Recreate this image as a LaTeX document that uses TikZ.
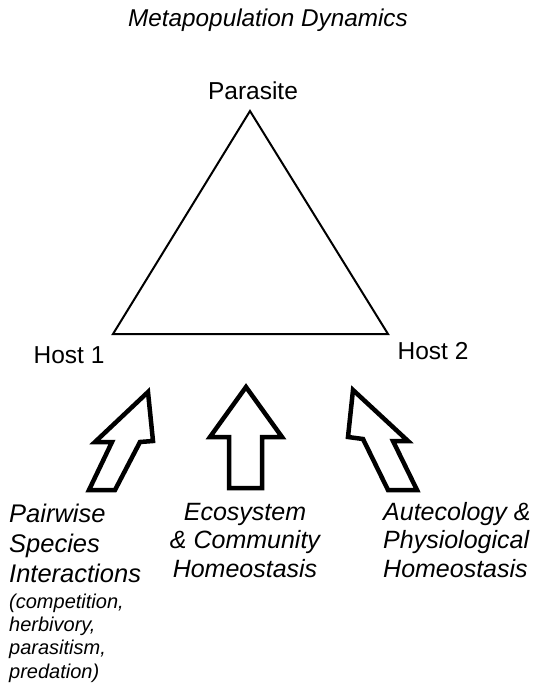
\documentclass[tikz,border=0pt]{standalone}
\usepackage{fontspec}
\setmainfont{Liberation Sans}
\begin{document}
\begin{tikzpicture}[x=1pt,y=-1pt,
  lbl/.style={inner sep=0pt, font=\fontsize{24.5}{28}\selectfont},
  ilbl/.style={inner sep=0pt, font=\fontsize{25}{28.5}\selectfont\itshape},
  small/.style={inner sep=0pt, font=\fontsize{20}{23.3}\selectfont\itshape},
  tri/.style={draw=black, line width=2pt, line join=miter},
  bigarrow/.style={draw=black, fill=white, line width=4.5pt, line join=miter}]
\useasboundingbox (0,0) rectangle (536,688);
\node[ilbl, anchor=base, font=\fontsize{24.3}{28}\selectfont\itshape] (title) at (268,27) {Metapopulation Dynamics};
\node[lbl, anchor=base] (par) at (253,99) {Parasite};
\node[lbl, anchor=base] (h1) at (69,363) {Host 1};
\node[lbl, anchor=base] (h2) at (433,359) {Host 2};
\coordinate (A) at (250,111);
\coordinate (B) at (113,334);
\coordinate (C) at (388,334);
\draw[tri] (A) -- (B) -- (C) -- cycle;
% arrows
\draw[bigarrow] (148,392) -- (153,441) -- (140,442) -- (115,490) -- (89,490) -- (112,442) -- (95,442) -- cycle;
\draw[bigarrow] (246,387) -- (282,437) -- (262,437) -- (262,488) -- (229,488) -- (229,437) -- (210,437) -- cycle;
\draw[bigarrow] (353,390) -- (408,441) -- (393,441) -- (417,490) -- (388,490) -- (363,439) -- (348,437) -- cycle;
% texts
\node[ilbl, anchor=base west, align=left, font=\fontsize{25.5}{30}\selectfont\itshape] (pw) at (9,582) {Pairwise\\Species\\Interactions};
\node[small, anchor=base west, align=left] (ex) at (9,678) {(competition,\\herbivory,\\parasitism,\\predation)};
\node[ilbl, anchor=base, align=center] (eco) at (245,577) {Ecosystem\\\& Community\\Homeostasis};
\node[ilbl, anchor=base west, align=left] (aut) at (383,577) {Autecology \&\\Physiological\\Homeostasis};
\end{tikzpicture}
\end{document}
